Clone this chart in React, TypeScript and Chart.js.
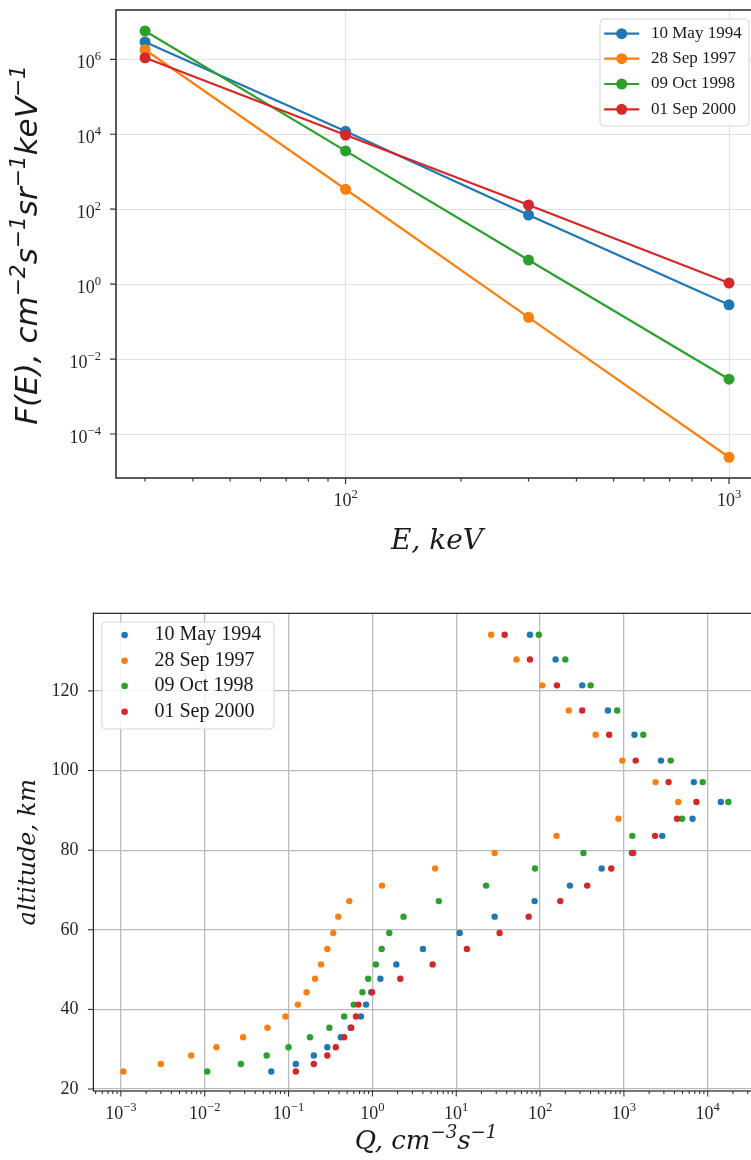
import React, { useEffect, useRef } from 'react';
import { Chart, registerables } from 'chart.js';

Chart.register(...registerables);

// ---------------- data ----------------
const SERIES_LABELS = ['10 May 1994', '28 Sep 1997', '09 Oct 1998', '01 Sep 2000'];
const SERIES_COLORS = ['#1f77b4', '#ff7f0e', '#2ca02c', '#d62728'];

// top panel: spectra F(E)
const ENERGY_KEV = [30, 100, 300, 1000];
const FLUX_1994 = [2.9e6, 1.2e4, 70, 0.28];
const FLUX_1997 = [1.8e6, 340, 0.13, 2.4e-5];
const FLUX_1998 = [5.7e6, 3600, 4.4, 2.9e-3];
const FLUX_2000 = [1.1e6, 9500, 130, 1.07];

// bottom panel: ionization rate Q vs altitude
const ALTITUDE_KM = [
  24.4, 26.3, 28.4, 30.5, 33.0, 35.4, 38.2, 41.2, 44.3, 47.7, 51.3, 55.2, 59.2, 63.3,
  67.2, 71.1, 75.4, 79.3, 83.6, 87.9, 92.1, 97.1, 102.5, 109.0, 115.1, 121.4, 127.9, 134.1,
];
const Q_1994 = [
  0.0622, 0.122, 0.2, 0.29, 0.42, 0.55, 0.73, 0.84, 0.97, 1.245, 1.93, 4.01, 11.0, 28.7,
  86, 227, 542, 1245, 2866, 6590, 14320, 6823, 2768, 1336, 644, 318, 153, 75.7,
];
const Q_1997 = [
  0.00107, 0.003, 0.0069, 0.0138, 0.0287, 0.056, 0.092, 0.129, 0.164, 0.207, 0.244, 0.29, 0.341, 0.392,
  0.53, 1.3, 5.6, 28.7, 157, 860, 4448, 2382, 955, 460, 220, 106, 52.3, 26.1,
];
const Q_1998 = [
  0.0107, 0.027, 0.0548, 0.1, 0.18, 0.307, 0.46, 0.6, 0.76, 0.89, 1.1, 1.29, 1.59, 2.35,
  6.2, 22.7, 87, 329, 1260, 4935, 17630, 8710, 3612, 1703, 831, 401, 200, 96.6,
];
const Q_2000 = [
  0.122, 0.2, 0.29, 0.366, 0.46, 0.56, 0.637, 0.68, 0.99, 2.15, 5.23, 13.4, 32.9, 73.1,
  174, 365, 707, 1290, 2354, 4300, 7315, 3410, 1383, 667, 318, 159, 75.7, 37.8,
];

// tick values
const ENERGY_TICKS = [100, 1000];
const FLUX_TICKS = [1e-4, 1e-2, 1, 1e2, 1e4, 1e6];
const Q_TICKS = [1e-3, 1e-2, 1e-1, 1, 10, 100, 1e3, 1e4];
const ALTITUDE_TICKS = [20, 40, 60, 80, 100, 120];

// axis titles (segments: [text, isSuperscript])
const FLUX_TITLE: Array<[string, boolean]> = [
  ['F(E), cm', false], ['−2', true], ['s', false], ['−1', true],
  ['sr', false], ['−1', true], ['keV', false], ['−1', true],
];
const Q_TITLE: Array<[string, boolean]> = [['Q, cm', false], ['−3', true], ['s', false], ['−1', true]];

// ---------------- helpers ----------------
function pow10Segs(v: number): Array<[string, boolean]> {
  const e = Math.round(Math.log10(v));
  return [['10', false], [String(e).replace('-', '−'), true]];
}
function minorLogValues(min: number, max: number): number[] {
  const out: number[] = [];
  for (let d = Math.floor(Math.log10(min)); d <= Math.ceil(Math.log10(max)); d++) {
    for (let m = 2; m <= 9; m++) {
      const v = m * Math.pow(10, d);
      if (v > min && v < max) out.push(v);
    }
  }
  return out;
}

type RichOpts = {
  x: number; y: number; size: number; family: string; style?: string; color: string;
  rotate?: boolean; align: 'center' | 'right'; raise?: number;
};
function drawRich(ctx: CanvasRenderingContext2D, segs: Array<[string, boolean]>, o: RichOpts) {
  const fontFor = (sup: boolean) => `${o.style ?? 'normal'} ${sup ? o.size * 0.7 : o.size}px "${o.family}"`;
  let total = 0;
  const widths = segs.map(([t, sup]) => {
    ctx.font = fontFor(sup);
    const w = ctx.measureText(t).width;
    total += w;
    return w;
  });
  ctx.save();
  ctx.translate(o.x, o.y);
  if (o.rotate) ctx.rotate(-Math.PI / 2);
  let cx = o.align === 'center' ? -total / 2 : -total;
  ctx.fillStyle = o.color;
  ctx.textBaseline = 'alphabetic';
  ctx.textAlign = 'left';
  segs.forEach(([t, sup], i) => {
    ctx.font = fontFor(sup);
    ctx.fillText(t, cx, sup ? -o.size * (o.raise ?? 0.42) : 0);
    cx += widths[i];
  });
  ctx.restore();
}

type LegendSpec = {
  x: number; y: number; w: number; h: number;
  rowY: number[]; withLine: boolean; markX: number; lineHalf: number;
  radius: number; textX: number; font: string;
};
type Deco = {
  spineColor: string; spineWidth: number; tickWidth: number;
  xMajor: number[]; xMinor: boolean; yMajor: number[];
  majorLen: number; minorLen: number; legend: LegendSpec;
  labelColor: string;
  xLabels?: { baseline: number; size: number; family: string };
  yLabels?: { right: number; dy: number; size: number; family: string };
  titles: Array<{ segs: Array<[string, boolean]>; x: number; y: number; size: number; family: string; rotate: boolean; raise: number }>;
};

function decorPlugin(d: Deco) {
  return {
    id: 'decor',
    afterDraw(chart: any) {
      const ctx: CanvasRenderingContext2D = chart.ctx;
      const a = chart.chartArea;
      const xs = chart.scales.x;
      const ys = chart.scales.y;
      ctx.save();
      // tick marks
      ctx.strokeStyle = d.spineColor;
      ctx.lineWidth = d.tickWidth;
      ctx.beginPath();
      d.xMajor.forEach((v) => {
        const p = xs.getPixelForValue(v);
        ctx.moveTo(p, a.bottom);
        ctx.lineTo(p, a.bottom + d.majorLen);
      });
      if (d.xMinor) {
        minorLogValues(xs.min, xs.max).forEach((v) => {
          const p = xs.getPixelForValue(v);
          ctx.moveTo(p, a.bottom);
          ctx.lineTo(p, a.bottom + d.minorLen);
        });
      }
      d.yMajor.forEach((v) => {
        const p = ys.getPixelForValue(v);
        ctx.moveTo(a.left - d.majorLen, p);
        ctx.lineTo(a.left, p);
      });
      ctx.stroke();
      // frame
      ctx.lineWidth = d.spineWidth;
      ctx.strokeRect(a.left, a.top, a.right - a.left, a.bottom - a.top);

      // log tick labels with superscript exponents
      if (d.xLabels) {
        const L = d.xLabels;
        d.xMajor.forEach((v) => {
          drawRich(ctx, pow10Segs(v), {
            x: xs.getPixelForValue(v), y: L.baseline, size: L.size, family: L.family,
            color: d.labelColor, align: 'center', raise: 0.44,
          });
        });
      }
      if (d.yLabels) {
        const L = d.yLabels;
        d.yMajor.forEach((v) => {
          drawRich(ctx, pow10Segs(v), {
            x: L.right, y: ys.getPixelForValue(v) + L.dy, size: L.size, family: L.family,
            color: d.labelColor, align: 'right', raise: 0.44,
          });
        });
      }
      // axis titles with superscripts
      d.titles.forEach((t) => {
        drawRich(ctx, t.segs, {
          x: t.x, y: t.y, size: t.size, family: t.family, style: 'italic',
          color: '#1a1a1a', align: 'center', rotate: t.rotate, raise: t.raise,
        });
      });

      // legend
      const L = d.legend;
      ctx.beginPath();
      const r = 4;
      ctx.moveTo(L.x + r, L.y);
      ctx.arcTo(L.x + L.w, L.y, L.x + L.w, L.y + L.h, r);
      ctx.arcTo(L.x + L.w, L.y + L.h, L.x, L.y + L.h, r);
      ctx.arcTo(L.x, L.y + L.h, L.x, L.y, r);
      ctx.arcTo(L.x, L.y, L.x + L.w, L.y, r);
      ctx.closePath();
      ctx.fillStyle = 'rgba(255,255,255,0.85)';
      ctx.fill();
      ctx.strokeStyle = '#d4d4d4';
      ctx.lineWidth = 1;
      ctx.stroke();
      chart.data.datasets.forEach((ds: any, i: number) => {
        const y = L.rowY[i];
        if (L.withLine) {
          ctx.strokeStyle = ds.borderColor;
          ctx.lineWidth = 2.2;
          ctx.beginPath();
          ctx.moveTo(L.markX - L.lineHalf, y);
          ctx.lineTo(L.markX + L.lineHalf, y);
          ctx.stroke();
        }
        ctx.fillStyle = ds.backgroundColor;
        ctx.beginPath();
        ctx.arc(L.markX, y, L.radius, 0, Math.PI * 2);
        ctx.fill();
        ctx.fillStyle = '#1a1a1a';
        ctx.font = L.font;
        ctx.textAlign = 'left';
        ctx.textBaseline = 'middle';
        ctx.fillText(ds.label, L.textX, y);
      });
      ctx.restore();
    },
  };
}

const fixSize = (w?: number, h?: number) => (s: any) => {
  if (w !== undefined) s.width = w;
  if (h !== undefined) s.height = h;
  s.paddingTop = 0;
  s.paddingBottom = 0;
  s.paddingLeft = 0;
  s.paddingRight = 0;
};

// ---------------- charts ----------------
function FluxChart() {
  const ref = useRef<HTMLCanvasElement>(null);
  useEffect(() => {
    const series = [FLUX_1994, FLUX_1997, FLUX_1998, FLUX_2000];
    const chart = new Chart(ref.current as HTMLCanvasElement, {
      type: 'line',
      data: {
        datasets: series.map((vals, i) => ({
          label: SERIES_LABELS[i],
          data: ENERGY_KEV.map((e, j) => ({ x: e, y: vals[j] })),
          borderColor: SERIES_COLORS[i],
          backgroundColor: SERIES_COLORS[i],
          pointBackgroundColor: SERIES_COLORS[i],
          pointBorderWidth: 0,
          pointRadius: 5.5,
          borderWidth: 2.2,
          tension: 0,
          order: series.length - i,
        })),
      },
      options: {
        animation: false,
        responsive: false,
        devicePixelRatio: 1,
        events: [],
        layout: { padding: { left: 0, top: 10, right: 42, bottom: 0 } },
        plugins: { legend: { display: false }, tooltip: { enabled: false } },
        scales: {
          x: {
            type: 'logarithmic',
            min: 25.2,
            max: 1190,
            afterBuildTicks: (s: any) => { s.ticks = ENERGY_TICKS.map((v) => ({ value: v })); },
            afterFit: fixSize(undefined, 102),
            grid: { color: '#e2e2e2', lineWidth: 1, drawTicks: false },
            border: { display: false },
            ticks: { display: false },
            title: {
              display: true, text: 'E, keV', color: '#1a1a1a',
              font: { family: 'DejaVu Serif', style: 'italic', size: 28, lineHeight: 1.2 },
              padding: { top: 0, bottom: 21 },
            },
          },
          y: {
            type: 'logarithmic',
            min: 6.7e-6,
            max: 2.07e7,
            afterBuildTicks: (s: any) => { s.ticks = FLUX_TICKS.map((v) => ({ value: v })); },
            afterFit: fixSize(116, undefined),
            grid: { color: '#e2e2e2', lineWidth: 1, drawTicks: false },
            border: { display: false },
            ticks: { display: false },
            title: { display: false },
          },
        },
      },
      plugins: [
        decorPlugin({
          spineColor: '#333333', spineWidth: 1.6, tickWidth: 1.2,
          xMajor: ENERGY_TICKS, xMinor: true, yMajor: FLUX_TICKS,
          majorLen: 6, minorLen: 3.5, labelColor: '#262626',
          xLabels: { baseline: 506, size: 18, family: 'Liberation Serif' },
          yLabels: { right: 101, dy: 8.5, size: 18, family: 'Liberation Serif' },
          titles: [{ segs: FLUX_TITLE, x: 37, y: 245, size: 31, family: 'DejaVu Sans', rotate: true, raise: 0.4 }],
          legend: {
            x: 600, y: 19, w: 149, h: 107,
            rowY: [33.7, 58.7, 84, 109.3], withLine: true, markX: 621.7, lineHalf: 17.5,
            radius: 5.5, textX: 651, font: '17px "Liberation Serif"',
          },
        }),
      ],
    } as any);
    return () => chart.destroy();
  }, []);
  return <canvas ref={ref} width={800} height={580} style={{ display: 'block', width: 800, height: 580 }} />;
}

function AltitudeChart() {
  const ref = useRef<HTMLCanvasElement>(null);
  useEffect(() => {
    const series = [Q_1994, Q_1997, Q_1998, Q_2000];
    const chart = new Chart(ref.current as HTMLCanvasElement, {
      type: 'scatter',
      data: {
        datasets: series.map((vals, i) => ({
          label: SERIES_LABELS[i],
          data: ALTITUDE_KM.map((h, j) => ({ x: vals[j], y: h })),
          backgroundColor: SERIES_COLORS[i],
          borderColor: SERIES_COLORS[i],
          pointBorderWidth: 0,
          pointRadius: 3.2,
          order: series.length - i,
        })),
      },
      options: {
        animation: false,
        responsive: false,
        devicePixelRatio: 1,
        events: [],
        layout: { padding: { left: 0, top: 33.3, right: 40, bottom: 0 } },
        plugins: { legend: { display: false }, tooltip: { enabled: false } },
        scales: {
          x: {
            type: 'logarithmic',
            min: 4.7e-4,
            max: 4.2e4,
            afterBuildTicks: (s: any) => { s.ticks = Q_TICKS.map((v) => ({ value: v })); },
            afterFit: fixSize(undefined, 69),
            grid: { color: '#bcbcbc', lineWidth: 1.3, drawTicks: false },
            border: { display: false },
            ticks: { display: false },
            title: { display: false },
          },
          y: {
            type: 'linear',
            min: 19.5,
            max: 139.5,
            afterBuildTicks: (s: any) => { s.ticks = ALTITUDE_TICKS.map((v) => ({ value: v })); },
            afterFit: fixSize(93.4, undefined),
            grid: { color: '#bcbcbc', lineWidth: 1.3, drawTicks: false },
            border: { display: false },
            ticks: {
              autoSkip: false, padding: 15, color: '#262626',
              font: { family: 'Liberation Serif', size: 18 },
            },
            title: {
              display: true, text: 'altitude, km', color: '#1a1a1a',
              font: { family: 'DejaVu Serif', style: 'italic', size: 24, lineHeight: 1.2 },
              padding: { top: 14, bottom: 0 },
            },
          },
        },
      },
      plugins: [
        decorPlugin({
          spineColor: '#222222', spineWidth: 1.2, tickWidth: 1,
          xMajor: Q_TICKS, xMinor: true, yMajor: ALTITUDE_TICKS,
          majorLen: 5.5, minorLen: 3, labelColor: '#262626',
          xLabels: { baseline: 538.5, size: 18, family: 'Liberation Serif' },
          titles: [{ segs: Q_TITLE, x: 426, y: 569, size: 26, family: 'DejaVu Serif', rotate: false, raise: 0.42 }],
          legend: {
            x: 101.8, y: 42, w: 172.2, h: 107,
            rowY: [55, 80.7, 106, 131.7], withLine: false, markX: 124.6, lineHalf: 0,
            radius: 3.3, textX: 154.5, font: '20px "Liberation Serif"',
          },
        }),
      ],
    } as any);
    return () => chart.destroy();
  }, []);
  return <canvas ref={ref} width={800} height={580} style={{ display: 'block', width: 800, height: 580 }} />;
}

export default function App() {
  return (
    <div
      style={{
        position: 'absolute', left: 0, top: 0, width: 751, height: 1160,
        overflow: 'hidden', background: '#ffffff',
      }}
    >
      <FluxChart />
      <AltitudeChart />
    </div>
  );
}
